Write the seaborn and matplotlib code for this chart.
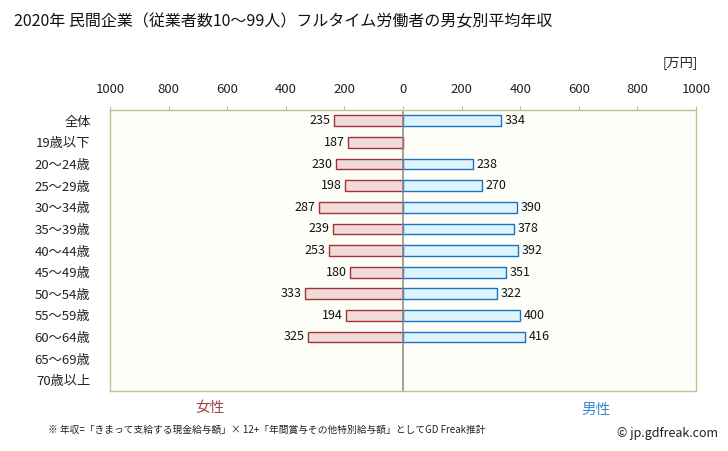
import numpy as np
import pandas as pd
import matplotlib
matplotlib.use("Agg")
import matplotlib.pyplot as plt
import seaborn as sns

# data (万円)
categories = ["全体", "19歳以下", "20～24歳", "25～29歳", "30～34歳", "35～39歳", "40～44歳",
              "45～49歳", "50～54歳", "55～59歳", "60～64歳", "65～69歳", "70歳以上"]
female = [235, 187, 230, 198, 287, 239, 253, 180, 333, 194, 325, np.nan, np.nan]
male = [334, np.nan, 238, 270, 390, 378, 392, 351, 322, 400, 416, np.nan, np.nan]
tick_values = [-1000, -800, -600, -400, -200, 0, 200, 400, 600, 800, 1000]

sns.set_theme(style="white")
plt.rcParams['font.family'] = ['Noto Sans CJK JP', 'DejaVu Sans']

df = pd.DataFrame({"cat": categories, "female": female, "male": male})
df["female_neg"] = -df["female"]

fig = plt.figure(figsize=(7.28, 4.51), dpi=100)
ax = fig.add_axes([0.1511, 0.133, 0.805, 0.623])
ax.set_facecolor("#FEFEF9")

sns.barplot(data=df, x="female_neg", y="cat", orient="h", ax=ax, width=0.5,
            color="#F0DADA", edgecolor="#A33333", linewidth=1.0, saturation=1)
sns.barplot(data=df, x="male", y="cat", orient="h", ax=ax, width=0.5,
            color="#DDF4FD", edgecolor="#1A72C0", linewidth=1.0, saturation=1)

for i, (f, m) in enumerate(zip(female, male)):
    if not np.isnan(f):
        ax.text(-f - 12, i, f"{f:.0f}", ha="right", va="center", fontsize=9, color="#111111")
    if not np.isnan(m):
        ax.text(m + 12, i, f"{m:.0f}", ha="left", va="center", fontsize=9, color="#111111")

ax.axvline(0, color="#888888", linewidth=1.1)
ax.set_xlim(-1000, 1000)
ax.set_ylim(len(categories) - 0.5, -0.5)
ax.set_xticks(tick_values)
ax.set_xticklabels([str(abs(v)) for v in tick_values], fontsize=9.5, color="#222222")
ax.xaxis.tick_top()
ax.tick_params(axis="x", which="both", top=True, bottom=False, length=3, width=0.8,
               color="#C8BC90", pad=7)
ax.tick_params(axis="y", left=False, labelsize=9.5, pad=8, labelcolor="#222222")
ax.set_xlabel("")
ax.set_ylabel("")
for s in ax.spines.values():
    s.set_color("#C8BC90")
    s.set_linewidth(1)

fig.text(14 / 728, 1 - 22 / 451, "2020年 民間企業（従業者数10～99人）フルタイム労働者の男女別平均年収",
         fontsize=11.5, ha="left", va="center", color="#111111")
fig.text(698 / 728, 1 - 63 / 451, "[万円]", fontsize=9.5, ha="right", va="center", color="#222222")
fig.text(210 / 728, 1 - 408 / 451, "女性", fontsize=10.5, ha="center", va="center", color="#A04545")
fig.text(596 / 728, 1 - 410 / 451, "男性", fontsize=10.5, ha="center", va="center", color="#3A8AD0")
fig.text(48 / 728, 1 - 430 / 451,
         "※ 年収=「きまって支給する現金給与額」× 12+「年間賞与その他特別給与額」としてGD Freak推計",
         fontsize=7, ha="left", va="center", color="#222222")
fig.text(718 / 728, 1 - 434 / 451, "© jp.gdfreak.com", fontsize=9, ha="right", va="center",
         color="#222222")

fig.savefig("out.png", dpi=100)
